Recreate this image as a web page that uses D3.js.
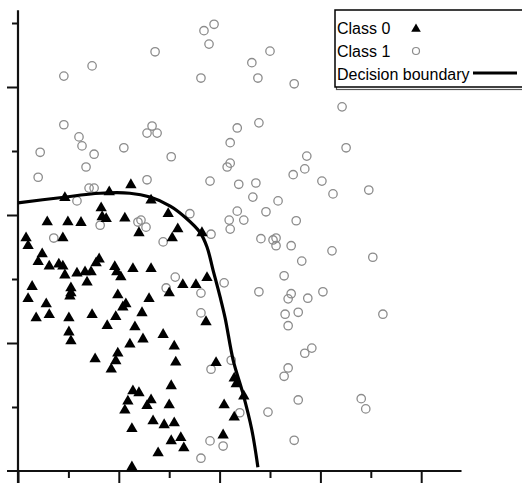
<!DOCTYPE html>
<html>
<head>
<meta charset="utf-8">
<script src="https://cdn.jsdelivr.net/npm/d3@7"></script>
<style>
  body { margin: 0; background: #fff; }
  svg { display: block; }
</style>
</head>
<body>
<div id="chart-area"></div>
<script>
// class 0 samples (triangles)
var class0X = [2.24,1.81,0.93,2.64,1.65,1.67,1.75,0.58,0.99,1.25,2.12,2.98,3.17,2.40,3.06,0.89,0.16,0.20,0.48,0.40,
    0.62,0.81,0.89,0.93,1.17,1.33,1.45,1.37,1.55,1.61,1.92,1.96,2.04,2.28,2.64,0.28,1.05,1.05,1.03,0.20,
    0.56,1.98,2.60,2.14,2.08,3.00,0.36,0.62,1.01,1.47,1.94,2.46,3.65,3.27,3.53,3.75,1.01,1.05,1.77,2.32,
    2.48,2.22,2.88,3.10,1.53,1.98,1.94,1.85,3.13,2.28,2.40,2.18,2.64,2.56,3.04,3.00,2.12,2.68,2.90,3.10,
    2.26,3.04,2.78,2.26,3.73,3.93,4.29,4.33,4.48,4.09,4.29,4.07,3.23,3.29];
var class0Y = [4.47,4.36,4.27,4.23,4.11,3.97,3.94,3.89,3.89,3.88,3.95,4.02,3.78,3.72,3.64,3.64,3.64,3.52,3.39,3.27,
    3.20,3.23,3.20,3.06,3.09,3.11,3.11,2.95,3.25,3.31,3.19,3.11,3.03,3.16,3.16,2.88,2.86,2.78,2.73,2.69,
    2.61,2.75,2.69,2.61,2.56,2.78,2.39,2.44,2.39,2.44,2.41,2.47,3.72,2.91,2.91,3.02,2.17,2.03,2.27,2.25,
    2.06,1.98,2.13,1.95,1.75,1.84,1.72,1.59,1.70,1.25,1.22,1.09,1.11,1.02,1.33,1.03,0.95,0.78,0.72,0.75,
    0.66,0.47,0.28,0.06,2.33,1.69,1.45,1.36,1.17,1.03,0.84,0.56,0.52,0.36];

// class 1 samples (circles)
var class1X = [0.44,0.91,1.47,2.72,0.91,1.21,1.27,1.51,2.10,2.66,2.56,2.76,3.04,3.89,3.69,3.79,5.00,4.64,3.63,4.76,
    5.48,6.43,4.78,4.35,4.21,5.73,6.51,4.21,4.15,0.40,1.35,1.41,1.51,2.56,1.17,1.63,0.71,2.38,2.44,2.54,
    2.88,3.12,2.94,5.69,5.46,3.81,4.38,4.72,6.03,6.25,4.66,5.16,4.35,4.92,3.41,4.19,4.48,5.52,4.21,3.83,
    4.82,5.06,5.12,5.12,5.42,6.23,5.63,5.28,4.09,4.78,3.63,5.42,5.36,5.75,6.05,3.63,5.30,5.56,6.96,7.04,
    7.24,5.36,5.69,5.83,4.23,3.83,5.36,5.28,5.56,4.96,4.40,3.81,4.07,5.48,3.63,6.81,6.90];
var class1Y = [4.98,6.17,6.33,6.55,5.41,5.22,5.08,4.95,5.05,5.39,5.28,5.28,4.91,6.98,6.88,6.67,6.56,6.38,6.14,6.14,
    6.05,5.69,5.44,5.36,5.13,4.92,5.05,4.81,4.75,4.59,4.75,4.42,4.42,4.55,4.22,3.84,3.64,3.89,3.92,3.81,
    3.58,3.03,2.86,4.72,4.63,4.53,4.48,4.50,4.53,4.33,4.28,4.22,4.06,4.05,4.02,3.92,3.92,3.91,3.78,3.70,
    3.63,3.61,3.64,3.52,3.52,3.44,3.28,3.05,2.94,2.80,2.78,2.77,2.69,2.70,2.80,2.47,2.45,2.48,4.39,3.34,
    2.45,2.27,1.84,1.92,1.73,1.59,1.61,1.48,1.11,0.92,0.91,0.47,0.39,0.48,0.20,1.13,0.97];

// decision boundary
var boundaryX = [0.00,0.83,1.63,2.22,2.62,3.02,3.31,3.61,3.75,3.87,4.01,4.11,4.27,4.46,4.64,4.76];
var boundaryY = [4.19,4.27,4.34,4.34,4.28,4.14,3.97,3.73,3.50,3.14,2.72,2.39,1.73,1.22,0.64,0.06];

var majorTicksX = [0, 2, 4, 6, 8];
var minorTicksX = [1, 3, 5, 7];
var majorTicksY = [2, 4, 6];
var minorTicksY = [1, 3, 5, 7];

var legendLabels = ["Class 0", "Class 1", "Decision boundary"];

var W = 522, H = 483;

var svg = d3.select("#chart-area")
    .append("svg")
        .attr("width", W)
        .attr("height", H);

var x = d3.scaleLinear().domain([0, 8.8]).range([18, 18 + 8.8 * 50.4]);
var y = d3.scaleLinear().domain([0, 7.2]).range([471, 471 - 7.2 * 64]);

// ticks
function tickAxis(axis, tv, size, transform) {
    var g = svg.append("g")
        .attr("transform", transform)
        .call(axis.tickValues(tv).tickSize(size).tickFormat(""));
    g.select(".domain").remove();
    g.selectAll(".tick line").attr("stroke", "#111").attr("stroke-width", 2);
    return g;
}
tickAxis(d3.axisBottom(x), majorTicksX, 12, "translate(0," + y(0) + ")");
tickAxis(d3.axisBottom(x), minorTicksX, 7, "translate(0," + y(0) + ")");
tickAxis(d3.axisLeft(y), majorTicksY, 11, "translate(" + x(0) + ",0)");
tickAxis(d3.axisLeft(y), minorTicksY, 6, "translate(" + x(0) + ",0)");

// axis lines
svg.append("line")
    .attr("x1", x(0) - 11).attr("x2", x(8.8))
    .attr("y1", y(0)).attr("y2", y(0))
    .attr("stroke", "#111").attr("stroke-width", 2.2);
svg.append("line")
    .attr("x1", x(0)).attr("x2", x(0))
    .attr("y1", y(7.2)).attr("y2", y(0) + 12)
    .attr("stroke", "#111").attr("stroke-width", 2.2);

var class1 = class1X.map(function(d, i){ return {x: d, y: class1Y[i]}; });
var class0 = class0X.map(function(d, i){ return {x: d, y: class0Y[i]}; });

svg.append("g").selectAll("circle")
    .data(class1)
    .enter().append("circle")
        .attr("cx", function(d){ return x(d.x); })
        .attr("cy", function(d){ return y(d.y); })
        .attr("r", 4.2)
        .attr("fill", "none")
        .attr("stroke", "#8c8c8c")
        .attr("stroke-width", 1.3);

var tri = d3.symbol().type(d3.symbolTriangle).size(56);

svg.append("g").selectAll("path")
    .data(class0)
    .enter().append("path")
        .attr("d", tri)
        .attr("transform", function(d){ return "translate(" + x(d.x) + "," + y(d.y) + ")"; })
        .attr("fill", "#000");

var line = d3.line()
    .x(function(d){ return x(d[0]); })
    .y(function(d){ return y(d[1]); })
    .curve(d3.curveCatmullRom);

svg.append("path")
    .datum(boundaryX.map(function(d, i){ return [d, boundaryY[i]]; }))
    .attr("d", line)
    .attr("fill", "none")
    .attr("stroke", "#000")
    .attr("stroke-width", 3.2);

// legend
var lg = svg.append("g").attr("transform", "translate(335,10)");
lg.append("rect")
    .attr("x", 1.5).attr("y", 1.5)
    .attr("width", 200).attr("height", 78)
    .attr("fill", "none").attr("stroke", "#555").attr("stroke-width", 1.2);
lg.append("rect")
    .attr("x", 0).attr("y", 0)
    .attr("width", 200).attr("height", 77)
    .attr("fill", "#fff").attr("stroke", "#000").attr("stroke-width", 1.5);

lg.selectAll("text")
    .data(legendLabels)
    .enter().append("text")
        .attr("x", 2)
        .attr("y", function(d, i){ return 24 + i * 23; })
        .attr("font-family", "'Liberation Sans', Arial, sans-serif")
        .attr("font-size", "16px")
        .attr("fill", "#000")
        .text(function(d){ return d; });

lg.append("path")
    .attr("d", d3.symbol().type(d3.symbolTriangle).size(40))
    .attr("transform", "translate(81,19)")
    .attr("fill", "#000");
lg.append("circle")
    .attr("cx", 81).attr("cy", 41).attr("r", 3.5)
    .attr("fill", "none").attr("stroke", "#8c8c8c").attr("stroke-width", 1.2);
lg.append("line")
    .attr("x1", 138).attr("x2", 182)
    .attr("y1", 63).attr("y2", 63)
    .attr("stroke", "#000").attr("stroke-width", 3);
</script>
</body>
</html>
